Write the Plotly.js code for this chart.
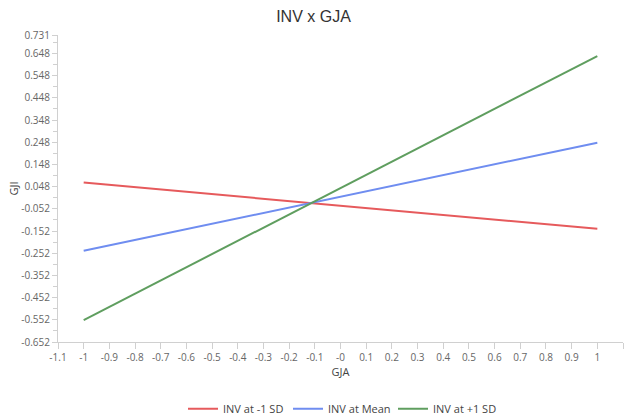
<!DOCTYPE html>
<html>
<head>
<meta charset="utf-8">
<script src="https://cdn.plot.ly/plotly-3.0.1.min.js"></script>
<style>html,body{margin:0;padding:0;background:#fff;}#chart{width:627px;height:418px;}</style>
</head>
<body>
<div id="chart"></div>
<script>
const xValues = [-1, 1];
const seriesNames = ["INV at -1 SD", "INV at Mean", "INV at +1 SD"];
const invLow = [0.066, -0.142];
const invMean = [-0.241, 0.246];
const invHigh = [-0.553, 0.636];
const seriesColors = ["#E65A5C", "#6F8DF0", "#5F9E5F"];
const yTickVals = [-0.652, -0.552, -0.452, -0.352, -0.252, -0.152, -0.052, 0.048, 0.148, 0.248, 0.348, 0.448, 0.548, 0.648, 0.731];
const yTickText = ["-0.652", "-0.552", "-0.452", "-0.352", "-0.252", "-0.152", "-0.052", "0.048", "0.148", "0.248", "0.348", "0.448", "0.548", "0.648", "0.731"];
const xTickVals = [-1.1, -1, -0.9, -0.8, -0.7, -0.6, -0.5, -0.4, -0.3, -0.2, -0.1, 0, 0.1, 0.2, 0.3, 0.4, 0.5, 0.6, 0.7, 0.8, 0.9, 1, 1.1];
const xTickText = ["-1.1", "-1", "-0.9", "-0.8", "-0.7", "-0.6", "-0.5", "-0.4", "-0.3", "-0.2", "-0.1", "-0", "0.1", "0.2", "0.3", "0.4", "0.5", "0.6", "0.7", "0.8", "0.9", "1", "1.1"];

const allY = [invLow, invMean, invHigh];
const traces = allY.map((ys, i) => ({
  type: "scatter", mode: "lines", x: xValues, y: ys, name: seriesNames[i],
  line: {color: seriesColors[i], width: 2}
}));

const tickFont = {family: "Open Sans, Noto Sans, sans-serif", size: 10, color: "#666"};
const layout = {
  width: 627, height: 418,
  margin: {l: 58, r: 4, t: 35, b: 76, autoexpand: false},
  paper_bgcolor: "#fff", plot_bgcolor: "#fff",
  title: {text: "INV x GJA", x: 0.5, xanchor: "center", y: 0.96, yanchor: "middle",
    font: {family: "Liberation Sans, Arial, sans-serif", size: 16, color: "#333"}},
  xaxis: {
    range: [-1.1, 1.1], tickmode: "array", tickvals: xTickVals, ticktext: xTickText,
    showgrid: false, zeroline: false, showline: true, linecolor: "#d0d0d0", linewidth: 1,
    ticks: "outside", ticklen: 6, tickcolor: "#d0d0d0", tickfont: tickFont, automargin: false,
    title: {text: "GJA", standoff: 3, font: {family: "Open Sans, sans-serif", size: 11, color: "#444"}}
  },
  yaxis: {
    range: [-0.652, 0.731], tickmode: "array", tickvals: yTickVals, ticktext: yTickText,
    showgrid: false, zeroline: false, showline: true, linecolor: "#d0d0d0", linewidth: 1,
    ticks: "outside", ticklen: 5, tickcolor: "#d0d0d0", tickfont: tickFont, automargin: false,
    minor: {tickmode: "linear", tick0: -0.652, dtick: 0.05, ticks: "outside", ticklen: 4, tickcolor: "#d0d0d0", showgrid: false},
    title: {text: "GJI", standoff: 0, font: {family: "Open Sans, sans-serif", size: 11, color: "#444"}}
  },
  showlegend: true,
  legend: {orientation: "h", x: 0.5, xanchor: "center", y: -0.17, yanchor: "top",
    itemwidth: 30, entrywidth: 60, entrywidthmode: "pixels",
    font: {family: "Open Sans, sans-serif", size: 11, color: "#444"}}
};
Plotly.newPlot("chart", traces, layout, {displayModeBar: false, staticPlot: true});
</script>
</body>
</html>
